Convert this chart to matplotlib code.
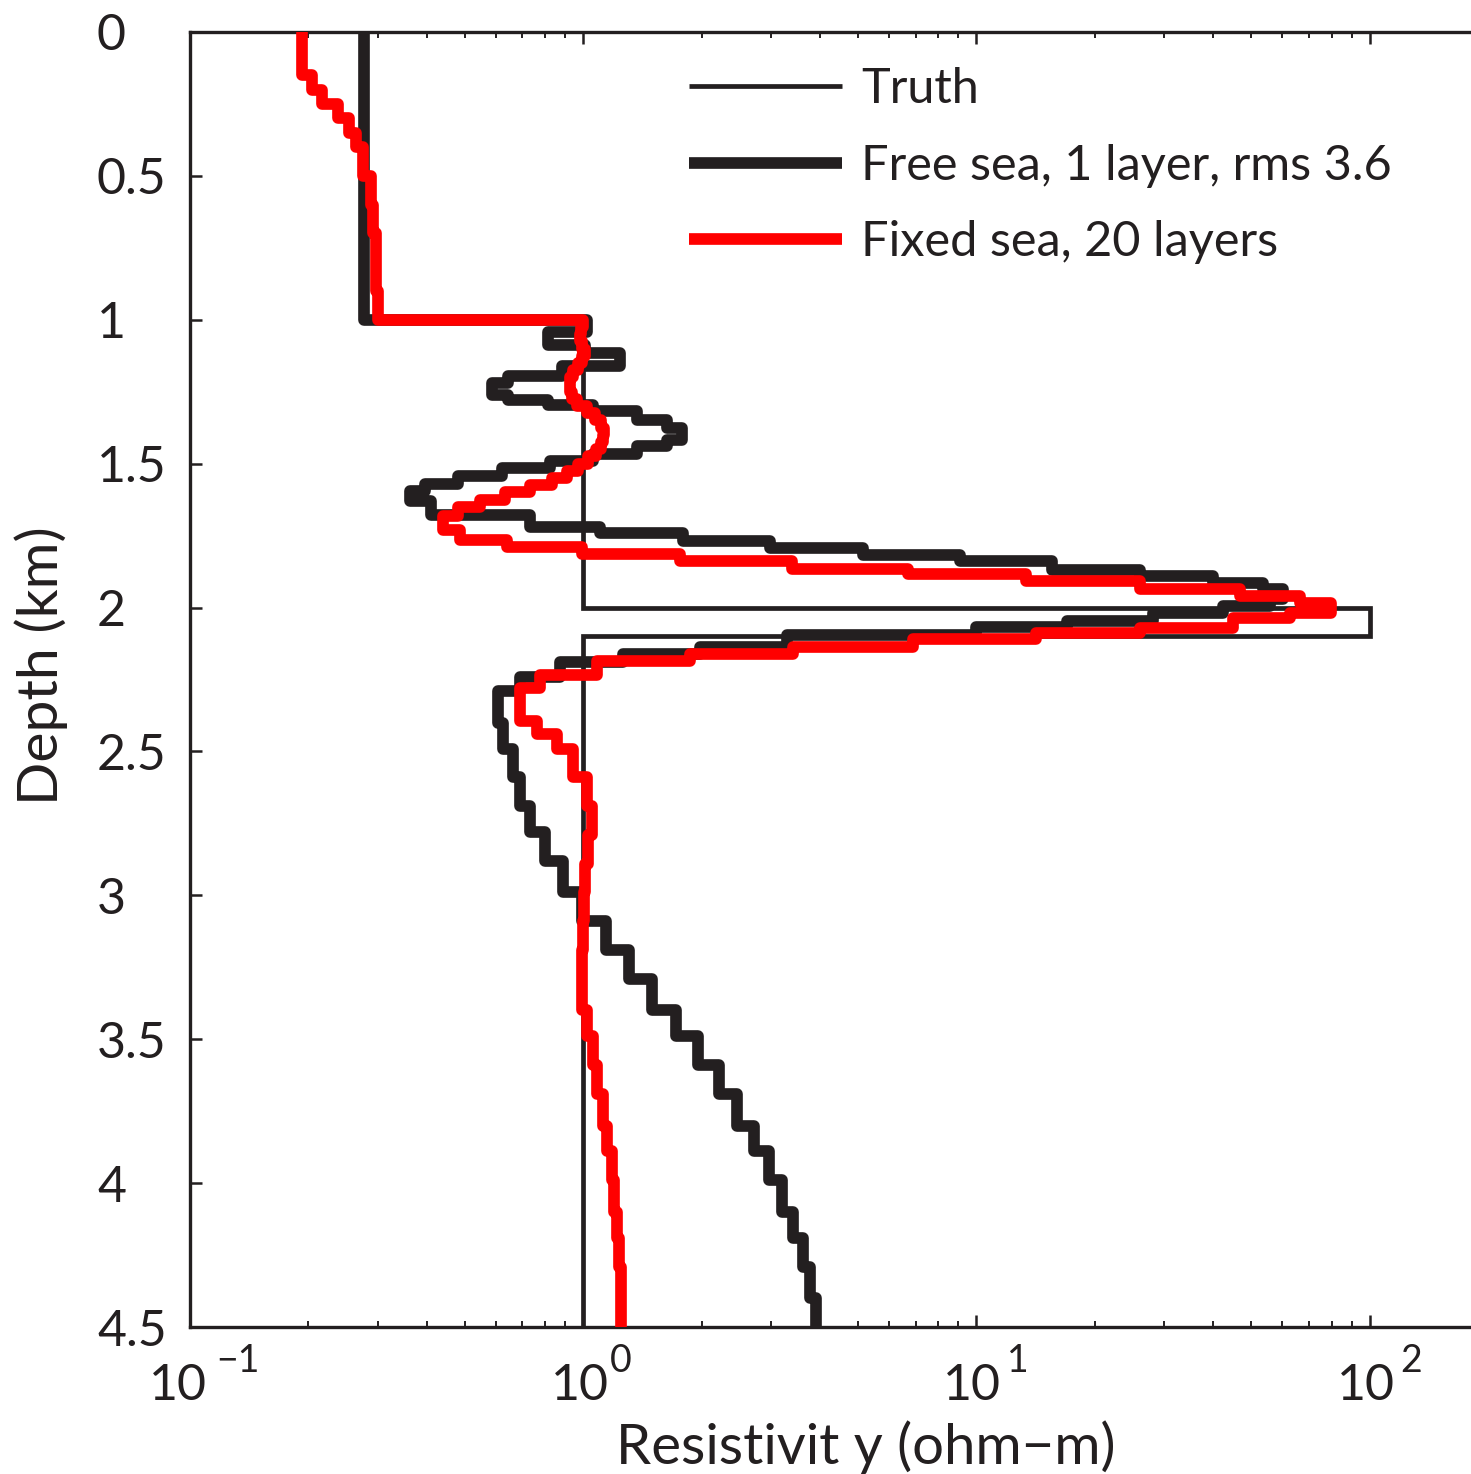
import numpy as np
import matplotlib
matplotlib.use("Agg")
import matplotlib.pyplot as plt
from matplotlib.lines import Line2D
from matplotlib.ticker import FixedLocator, LogLocator, NullFormatter
from matplotlib.transforms import blended_transform_factory, offset_copy

plt.rcParams['font.family'] = ['Lato', 'DejaVu Sans']

INK = '#231f20'
RED = '#ff0000'

# Layer boundaries (km) and layer resistivities (ohm-m) for each model
truth_edges = [0.0, 1.0, 2.0, 2.1, 4.5]
truth_rho = [0.277, 1.0, 100.0, 1.0]

free_edges = [0.0, 1.0, 1.041, 1.089, 1.116, 1.162, 1.194, 1.218, 1.260, 1.278,
              1.295, 1.318, 1.347, 1.376, 1.417, 1.440, 1.465, 1.489, 1.515,
              1.544, 1.571, 1.596, 1.631, 1.68, 1.72, 1.742, 1.768, 1.793, 1.816,
              1.839, 1.868, 1.891, 1.914, 1.937, 1.97, 1.995, 2.019, 2.045, 2.068,
              2.094, 2.137, 2.163, 2.19, 2.24, 2.29, 2.4, 2.49, 2.59, 2.69, 2.78,
              2.88, 2.99, 3.09, 3.19, 3.29, 3.4, 3.49, 3.59, 3.69, 3.8, 3.89, 3.99,
              4.1, 4.19, 4.29, 4.4, 4.5]
free_rho = [0.277, 1.02, 0.815, 1.01, 1.24, 0.884, 0.645, 0.587, 0.645, 0.815,
            1.06, 1.37, 1.63, 1.78, 1.63, 1.37, 1.06, 0.824, 0.623, 0.481, 0.397,
            0.363, 0.409, 0.733, 1.105, 1.795, 2.99, 5.15, 9.08, 15.6, 26.0, 39.9,
            53.5, 60.1, 55.7, 42.3, 28.1, 17.0, 10.0, 3.30, 1.98, 1.26, 0.874,
            0.692, 0.608, 0.626, 0.664, 0.692, 0.733, 0.80, 0.889, 0.994, 1.144,
            1.309, 1.497, 1.723, 1.96, 2.217, 2.462, 2.722, 2.971, 3.204, 3.417,
            3.623, 3.776, 3.909]

fixed_edges = [0.0, 0.15, 0.2, 0.25, 0.3, 0.35, 0.4, 0.5, 0.6, 0.7, 0.9, 1.0,
               1.025, 1.05, 1.075, 1.10, 1.125, 1.15, 1.175, 1.20, 1.225, 1.25,
               1.275, 1.30, 1.325, 1.35, 1.375, 1.40, 1.425, 1.45, 1.475, 1.50,
               1.525, 1.55, 1.575, 1.60, 1.625, 1.65, 1.683, 1.729, 1.764, 1.789,
               1.814, 1.839, 1.865, 1.885, 1.909, 1.934, 1.961, 1.985, 2.02, 2.036,
               2.071, 2.088, 2.111, 2.137, 2.163, 2.186, 2.235, 2.279, 2.395, 2.44,
               2.49, 2.59, 2.69, 2.79, 2.89, 2.99, 3.09, 3.19, 3.29, 3.40, 3.49,
               3.59, 3.69, 3.80, 3.89, 3.99, 4.10, 4.19, 4.29, 4.5]
fixed_rho = [0.193, 0.204, 0.217, 0.238, 0.253, 0.265, 0.276, 0.288, 0.292, 0.298,
             0.300,
             1.000, 0.988, 0.983, 0.994, 1.012, 0.994, 0.971, 0.943, 0.927, 0.927,
             0.938, 0.966, 1.024, 1.073, 1.111, 1.131, 1.124, 1.111, 1.079, 1.030,
             0.971, 0.911, 0.834, 0.733, 0.634, 0.547, 0.481, 0.441, 0.487, 0.641,
             0.994, 1.764, 3.40, 6.70, 13.4, 26.0, 46.7, 66.4, 79.6, 62.6, 44.9,
             26.0, 14.2, 6.90, 3.42, 1.87, 1.085, 0.778, 0.692, 0.764, 0.859,
             0.943, 1.024, 1.054, 1.03, 1.012, 1.006, 1.0, 0.994, 0.994, 1.024,
             1.06, 1.085, 1.124, 1.151, 1.185, 1.199, 1.22, 1.234, 1.249]

labels = ['Truth', 'Free sea, 1 layer, rms 3.6', 'Fixed sea, 20 layers']
depth_ticks = [0, 0.5, 1, 1.5, 2, 2.5, 3, 3.5, 4, 4.5]
depth_ticklabels = ['0', '0.5', '1', '1.5', '2', '2.5', '3', '3.5', '4', '4.5']
rho_ticks = [0.1, 1, 10, 100]
rho_exponents = ['\u22121', '0', '1', '2']


def step_profile(edges, rho):
    edges = np.asarray(edges, dtype=float)
    rho = np.asarray(rho, dtype=float)
    x = np.repeat(rho, 2)
    y = np.column_stack([edges[:-1], edges[1:]]).ravel()
    return x, y


fig = plt.figure(figsize=(14.71, 14.74), dpi=100)
ax = fig.add_axes([190 / 1471, 147 / 1474, 1281 / 1471, 1295 / 1474])

x, y = step_profile(truth_edges, truth_rho)
ax.plot(x, y, color=INK, lw=3.4, solid_joinstyle='miter', zorder=2)
x, y = step_profile(free_edges, free_rho)
ax.plot(x, y, color=INK, lw=8.4, solid_joinstyle='round',
        solid_capstyle='round', zorder=3)
x, y = step_profile(fixed_edges, fixed_rho)
ax.plot(x, y, color=RED, lw=8.4, solid_joinstyle='round',
        solid_capstyle='round', zorder=4)

ax.set_xscale('log')
ax.set_xlim(0.1, 181)
ax.set_ylim(4.5, 0)

ax.xaxis.set_major_locator(FixedLocator(rho_ticks))
ax.xaxis.set_major_formatter(NullFormatter())
ax.xaxis.set_minor_locator(LogLocator(base=10, subs=np.arange(2, 10)))
ax.xaxis.set_minor_formatter(NullFormatter())
ax.yaxis.set_major_locator(FixedLocator(depth_ticks))
ax.set_yticklabels(depth_ticklabels)

for side in ['top', 'bottom', 'left']:
    ax.spines[side].set_linewidth(2.4)
    ax.spines[side].set_color(INK)
ax.spines['right'].set_visible(False)

ax.tick_params(axis='both', which='both', direction='in', colors=INK,
               top=True, right=False)
ax.tick_params(axis='both', which='major', length=8.6, width=1.8)
ax.tick_params(axis='x', which='minor', length=4.3, width=1.4)
ax.tick_params(axis='y', which='major', labelsize=36, pad=67)
for lab in ax.get_yticklabels():
    lab.set_horizontalalignment('left')

# Decade labels: "10" with a raised exponent set a little apart
trans = blended_transform_factory(ax.transData, ax.transAxes)
base_shift = [17, 26, 24, 25]
exp_shift = [26, 27, 31, 31]
for v, e, bs, es in zip(rho_ticks, rho_exponents, base_shift, exp_shift):
    ax.text(v, -0.0564, '10', fontsize=36, color=INK, ha='right',
            va='baseline', clip_on=False,
            transform=offset_copy(trans, fig=fig, x=bs, y=0, units='dots'))
    ax.text(v, -0.0347, e, fontsize=27, color=INK, ha='left',
            va='baseline', clip_on=False,
            transform=offset_copy(trans, fig=fig, x=es, y=0, units='dots'))

ax.set_ylabel('Depth (km)', fontsize=41, color=INK)
ax.yaxis.set_label_coords(-0.095, 0.511)
ax.set_xlabel('Resistivit y (ohm\u2212m)', fontsize=40.5, color=INK)
ax.xaxis.set_label_coords(0.5277, -0.072)

handles = [
    Line2D([], [], color=INK, lw=3.4, solid_capstyle='butt'),
    Line2D([], [], color=INK, lw=8.4, solid_capstyle='butt'),
    Line2D([], [], color=RED, lw=8.4, solid_capstyle='butt'),
]
ax.legend(handles, labels, loc='upper left', bbox_to_anchor=(0.3895, 0.973),
          frameon=False, fontsize=35, borderpad=0, borderaxespad=0,
          handlelength=3.15, handletextpad=0.39, labelspacing=0.67,
          labelcolor=INK)

fig.savefig('out.png', dpi=100, facecolor='white')
